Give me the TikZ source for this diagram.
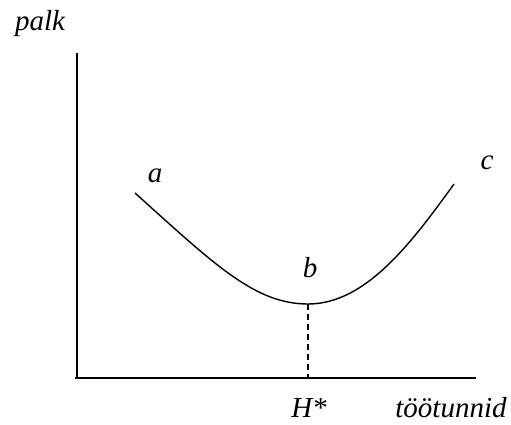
\documentclass[tikz,border=0pt]{standalone}
\usepackage{fontspec}
\setmainfont{Liberation Serif}
\begin{document}
\begin{tikzpicture}[x=1pt,y=-1pt,
  lbl/.style={font=\fontsize{29}{32}\selectfont\itshape, inner sep=0pt},
  axis/.style={line width=1.4pt},
  curve/.style={line width=1.4pt}]
\useasboundingbox (0,0) rectangle (511,425);
\coordinate (ytop) at (77,53);
\coordinate (orig) at (77,378);
\coordinate (xend) at (476,378);
\coordinate (A) at (135,193);
\coordinate (B) at (308,304);
\coordinate (C) at (454,184);
\coordinate (Bx) at (308,378);
\draw[axis] (ytop) -- (orig);
\draw[axis] (75,378) -- (xend);
\draw[curve] (A) .. controls (215,265) and (255,304) .. (B) .. controls (365,304) and (410,245) .. (C);
\draw[line width=1.4pt, dash pattern=on 6pt off 4pt] (B) -- (Bx);
\node[lbl] (palk) at (40,24) {palk};
\node[lbl] (la) at (155,176) {a};
\node[lbl] (lb) at (310,268) {b};
\node[lbl] (lc) at (487,163) {c};
\node[lbl] (H) at (309,408) {H*};
\node[lbl] (tt) at (451,408) {töötunnid};
\end{tikzpicture}
\end{document}
